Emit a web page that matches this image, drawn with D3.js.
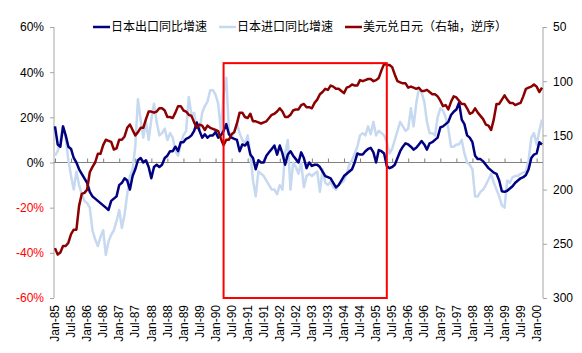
<!DOCTYPE html>
<html>
<head>
<meta charset="utf-8">
<script src="https://cdn.jsdelivr.net/npm/d3@7"></script>
<style>
body{margin:0;background:#fff;}
svg{font-family:"Liberation Sans",Arial,"Noto Sans CJK SC",sans-serif;}
</style>
</head>
<body>
<svg id="chart" width="582" height="353"></svg>
<script>
// monthly, Jan-85 .. Mar-00
var months = d3.timeMonth.range(new Date(1985, 0, 1), new Date(2000, 3, 1));
var fmtMonth = d3.timeFormat("%b-%y");
var categories = months.map(fmtMonth);

var tickLabels = ["Jan-85","Jul-85","Jan-86","Jul-86","Jan-87","Jul-87","Jan-88","Jul-88",
	"Jan-89","Jul-89","Jan-90","Jul-90","Jan-91","Jul-91","Jan-92","Jul-92","Jan-93","Jul-93",
	"Jan-94","Jul-94","Jan-95","Jul-95","Jan-96","Jul-96","Jan-97","Jul-97","Jan-98","Jul-98",
	"Jan-99","Jul-99","Jan-00"];

var seriesNames = ["日本出口同比增速", "日本进口同比增速", "美元兑日元（右轴，逆序）"];

var exportYoY = [16,8,7,16,12,7,6,2,0,-3,-5,-7,
	-9,-13,-15,-16,-17,-18,-19,-20,-21,-17,-16,-15,
	-10,-9,-7,-8,-12,-6,-3,1,2,0,1,-2,
	-7,-2,-1,-2,-1,2,3,5,5,7,5,9,
	9,10.5,11,12,14,17.7,14,11,12.5,11,12,12,
	13.5,11,12,14,17,12.5,11,10.5,10,5,8,7.5,
	9,3.5,2,-3,1,0,0,3,4.5,6,7.5,3.5,
	7.5,4,-1,3.5,5,3,1.5,0,4.5,2,-2.5,0,
	-1.5,-1,-1,-2,-4,-6,-6.5,-7,-9,-11,-10,-8,
	-6,-5,-4,-3,0,4,3.5,3.5,5,6,6.5,4.5,
	0,5.5,5,4,-1.6,-2.5,-2,-1,2,5,7,8.5,
	8,7,5.7,6.5,8,9.5,8,5.7,8.5,9,10,11,
	15.5,16,17,18,21,22.5,23.5,26.5,19,17,12,11,
	9,3,1.5,1.5,0.5,-1,-2.5,-3.5,-4.5,-5,-8,-12.7,
	-13,-12.5,-11.5,-10.5,-9,-8,-7,-6.5,-5.5,-3,2,3.5,
	4,9,8];

var importYoY = [3,5,10,16,11,1,-6,-12,-4,-10,-14,-17,
	-18,-20,-30,-34,-37,-33,-30,-41,-35,-32,-30,-26,
	-21,-29,-23,-14,-6,-3,7,28,19,11,18,10,
	19,26,18,12,13,15,10,13,11,5,3,8,
	12,14,29,21,22,15,14,22,25,27,32,32,
	30,26,14,30,37.5,14,11,14,17,13,10,8,
	12,4,-8,-15,-4,-5,-6,-8,-10,-12,-12,-14,
	-10,-12,4,10,-12,0,-2,-5,0,-11,-6,-5,
	-6,-5,-4,-13,-3,-9,-10,-8.5,-11,-12,-10,-9,
	-8,-5,-1,1,4,7,12,13,12,16,12.5,18,
	12,14,13,12,9,4,6,10,14,18,16,14,
	15,24,16,26,33,31,27,18,13,13,12,20,
	24,23,20,15,7,7,8,8,10,4,0,-1,
	-3,-15,-15,-13,-12,-10,-7.5,-5,-9,-12,-15,-19,
	-20,-8,-9,-6.5,-6,-6,-5,-4.5,-4,1,11,13,
	8,14,19];

var usdJpy = [254,260,258,252,252,249,241,237,237,215,204,203,
	200,184,179,175,167,167,159,154,155,156,163,162,
	154,154,151,143,140,145,150,147,143,143,135,128,
	128,129,128,125,125,127,133,133,134,129,123,123,
	127,128,131,132,138,143,140,141,145,141,143,144,
	145,146,153,159,154,154,149,147,139,129,129,133,
	134,130,137,137,138,139,138,137,134,131,130,128,
	125,128,133,133,131,127,126,126,122,121,124,124,
	125,120,117,112,110,107,108,104,105,107,107,109,
	111,106,105,103,104,104,99,100,99,98,98,100,
	99,97,90,84,85,85,87,94,100,101,102,102,
	106,105,106,107,106,109,109,108,110,112,112,114,
	118,123,122,126,119,114,115,118,121,121,125,130,
	129,125,129,132,135,140,141,145,135,121,121,117,
	113,117,120,120,122,121,120,114,107,106,105,103,
	105,110,106];

var leftTicks = [60, 40, 20, 0, -20, -40, -60];
var rightTicks = [50, 100, 150, 200, 250, 300];
// highlighted period (red box), in data units
var boxFrom = "Apr-90", boxTo = "May-95", boxTop = 44, boxBottom = -60;

var colors = ["#000080", "#c6d9f0", "#8b0000"];

var svg = d3.select("#chart");
var plotL = 54, plotR = 543, plotT = 27, plotB = 298;

var x = d3.scalePoint().domain(categories).range([plotL + 1, plotR - 1]);
var yL = d3.scaleLinear().domain([-60, 60]).range([plotB, plotT]);
var yR = d3.scaleLinear().domain([50, 300]).range([plotT, plotB]);

// left axis
var gL = svg.append("g").attr("transform", "translate(" + plotL + ",0)");
gL.call(d3.axisLeft(yL).tickValues(leftTicks).tickSize(4).tickFormat(function(d){ return d + "%"; }));
gL.select(".domain").attr("stroke", "#a6a6a6").attr("d", "M0," + plotT + "V" + plotB);
gL.selectAll(".tick line").attr("stroke", "#a6a6a6");
gL.selectAll(".tick text").attr("font-size", 12).attr("font-family", "Liberation Sans, Arial, sans-serif")
	.attr("x", -10)
	.attr("fill", function(d){ return d < 0 ? "#ff0000" : "#000"; });

// right axis
var gR = svg.append("g").attr("transform", "translate(" + plotR + ",0)");
gR.call(d3.axisRight(yR).tickValues(rightTicks).tickSize(4));
gR.select(".domain").attr("stroke", "#a6a6a6").attr("d", "M0," + plotT + "V" + plotB);
gR.selectAll(".tick line").attr("stroke", "#a6a6a6");
gR.selectAll(".tick text").attr("font-size", 12).attr("font-family", "Liberation Sans, Arial, sans-serif")
	.attr("x", 10).attr("fill", "#000");

// category axis on the zero line
var gX = svg.append("g").attr("transform", "translate(0," + yL(0) + ")");
gX.call(d3.axisTop(x).tickValues(tickLabels).tickSize(4).tickFormat(""));
gX.select(".domain").attr("stroke", "#808080").attr("d", "M" + plotL + ",0H" + plotR);
gX.selectAll(".tick line").attr("stroke", "#808080");

// rotated month labels at the bottom
svg.append("g").selectAll("text")
	.data(tickLabels)
	.enter().append("text")
	.attr("transform", function(d){ return "translate(" + x(d) + ",305) rotate(-90)"; })
	.attr("text-anchor", "end")
	.attr("dy", "0.35em")
	.attr("font-size", 12)
	.attr("fill", "#000")
	.text(function(d){ return d; });

// lines
var lineL = d3.line().x(function(d, i){ return x(categories[i]); }).y(function(d){ return yL(d); });
var lineR = d3.line().x(function(d, i){ return x(categories[i]); }).y(function(d){ return yR(d); });

svg.append("path").datum(importYoY).attr("d", lineL)
	.attr("fill", "none").attr("stroke", colors[1]).attr("stroke-width", 2.5).attr("stroke-linejoin", "round");
svg.append("path").datum(exportYoY).attr("d", lineL)
	.attr("fill", "none").attr("stroke", colors[0]).attr("stroke-width", 2.5).attr("stroke-linejoin", "round");
svg.append("path").datum(usdJpy).attr("d", lineR)
	.attr("fill", "none").attr("stroke", colors[2]).attr("stroke-width", 2.5).attr("stroke-linejoin", "round");

// highlight box
svg.append("rect")
	.attr("x", x(boxFrom)).attr("y", yL(boxTop))
	.attr("width", x(boxTo) - x(boxFrom)).attr("height", yL(boxBottom) - yL(boxTop))
	.attr("fill", "none").attr("stroke", "#ff0000").attr("stroke-width", 2);

// legend
var lx = 93;
seriesNames.forEach(function(name, i){
	var g = svg.append("g").attr("transform", "translate(" + lx + ",27)");
	g.append("line").attr("x1", 0).attr("x2", 17).attr("y1", 0).attr("y2", 0)
		.attr("stroke", colors[i]).attr("stroke-width", 2.5);
	var t = g.append("text").attr("x", 18).attr("dy", "0.35em").attr("font-size", 12)
		.attr("fill", "#000").text(name);
	lx += 18 + t.node().getComputedTextLength() + 12;
});
</script>
</body>
</html>
